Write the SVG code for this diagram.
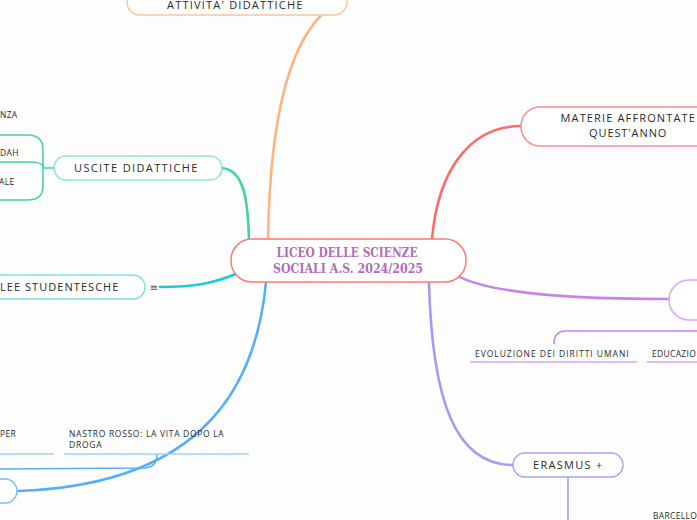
<svg xmlns="http://www.w3.org/2000/svg" width="697" height="520" viewBox="0 0 697 520">
<style>
.bg{fill:#fdfdfe}
.node{fill:#ffffff;stroke-width:1.5}
.lbl{font-family:"Open Sans","Noto Sans",sans-serif;font-size:11px;fill:#2a2a2e;letter-spacing:0.6px}
.sm{font-family:"Open Sans","Noto Sans",sans-serif;font-size:8.5px;fill:#2a2a2e;letter-spacing:0.3px}
.edge{fill:none;stroke-width:2.6;stroke-linecap:round}
.sub{fill:none;stroke-width:1.6}
.title{font-family:"DejaVu Serif",serif;font-weight:bold;font-size:13px;fill:#b46cba}
</style>
<rect class="bg" x="0" y="0" width="697" height="520"/>
<g id="connectors">
  <path class="edge" stroke="#ffb380" d="M268,239 C270,120 288,30 340,0"/>
  <path class="edge" stroke="#40d6a0" d="M222,168 C244,170 248,200 249,240"/>
  <path class="edge" stroke="#1ecbd6" d="M160,287 C195,287 215,283 238,273"/>
  <path class="edge" stroke="#58aef5" d="M266,282 C255,400 190,485 18,491"/>
  <path class="edge" stroke="#ff6b6b" d="M432,239 C438,170 470,126 521,126"/>
  <path class="edge" stroke="#c583ec" d="M456,275 C485,292 560,299 669,299"/>
  <path class="edge" stroke="#a29bf7" d="M429,282 C432,400 455,465 513,465"/>
  <path class="sub" stroke="#3fd6a0" d="M54,168 L44,168 M0,135 L28,135 Q43,135 43,150 L43,186 Q43,200 28,200 L0,200 M0,162 L32,162 Q42,162 44,168"/>
  <path class="sub" stroke="#58aef5" stroke-width="2" d="M0,469 L145,468 Q157,467 157,454"/>
  <path class="sub" stroke="#a3cff9" d="M0,454 L54,454 M64,454 L249,454"/>
  <path class="sub" stroke="#c583ec" stroke-width="2" d="M697,331 L566,331 Q554,331 554,344"/>
  <path class="sub" stroke="#d3a6f2" d="M470,362 L637,362 M647,362 L697,362"/>
  <path class="sub" stroke="#a29bf7" stroke-width="2" d="M568,477 L568,520"/>
</g>
<g id="central">
  <rect class="node" x="231" y="239" width="235" height="43" rx="21" stroke="#ff7a70" stroke-width="1.8"/>
  <text class="title" x="347" y="257" text-anchor="middle" textLength="141" lengthAdjust="spacingAndGlyphs">LICEO DELLE SCIENZE</text>
  <text class="title" x="348" y="273" text-anchor="middle" textLength="150" lengthAdjust="spacingAndGlyphs">SOCIALI A.S. 2024/2025</text>
</g>
<g id="attivita">
  <rect class="node" x="127" y="-12" width="220" height="27" rx="13" stroke="#ffc49a"/>
  <text class="lbl" x="235" y="9" text-anchor="middle" textLength="136">ATTIVITA' DIDATTICHE</text>
</g>
<g id="uscite">
  <rect class="node" x="54" y="156" width="168" height="24" rx="12" stroke="#8ee6c6"/>
  <text class="lbl" x="136" y="172" text-anchor="middle" textLength="124">USCITE DIDATTICHE</text>
</g>
<g id="uscite-children">
  <text class="sm" x="0" y="118">NZA</text>
  <text class="sm" x="0" y="156">DAH</text>
  <text class="sm" x="-1" y="185">ALE</text>
</g>
<g id="assemblee">
  <rect class="node" x="-20" y="275" width="165" height="24" rx="12" stroke="#7de0e8"/>
  <text class="lbl" x="0" y="291" textLength="119">LEE STUDENTESCHE</text>
  <text x="154" y="291" font-family="DejaVu Sans,sans-serif" font-size="10" fill="#555" text-anchor="middle">≡</text>
</g>
<g id="blue-node">
  <rect class="node" x="-30" y="479" width="47" height="24" rx="12" stroke="#7bbcf6"/>
</g>
<g id="blue-children">
  <text class="sm" x="0" y="437">PER</text>
  <text class="sm" x="69" y="437" textLength="155">NASTRO ROSSO: LA VITA DOPO LA</text>
  <text class="sm" x="69" y="448" textLength="33">DROGA</text>
</g>
<g id="materie">
  <rect class="node" x="521" y="107" width="220" height="39" rx="19" stroke="#ff8a8a"/>
  <text class="lbl" x="628" y="122" text-anchor="middle" textLength="135">MATERIE AFFRONTATE</text>
  <text class="lbl" x="628" y="137" text-anchor="middle" textLength="78">QUEST'ANNO</text>
</g>
<g id="purple-node">
  <rect class="node" x="669" y="280" width="80" height="40" rx="20" stroke="#d8a8f2"/>
</g>
<g id="purple-children">
  <text class="sm" x="475" y="357" textLength="154">EVOLUZIONE DEI DIRITTI UMANI</text>
  <text class="sm" x="652" y="357">EDUCAZIO</text>
</g>
<g id="erasmus">
  <rect class="node" x="513" y="453" width="110" height="24" rx="12" stroke="#aaa3f8"/>
  <text class="lbl" x="568" y="469" text-anchor="middle" textLength="70">ERASMUS +</text>
</g>
<g id="erasmus-children">
  <text class="sm" x="653" y="519">BARCELLO</text>
</g>
</svg>
